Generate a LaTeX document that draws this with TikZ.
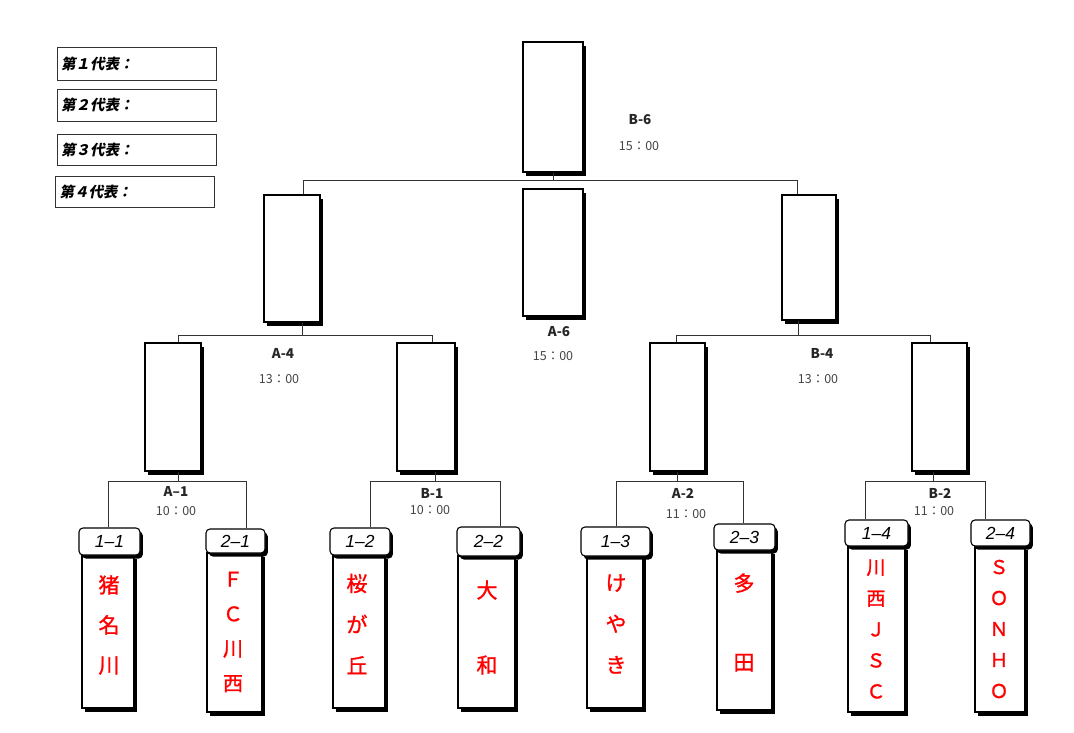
\documentclass[tikz,border=0pt]{standalone}
\usepackage{fontspec}
\setmainfont{Noto Sans CJK JP}
\newfontfamily\legfont[FakeSlant=0.2]{Noto Sans CJK JP}
\newfontfamily\teamfont[FakeBold=1.2]{Noto Sans CJK JP}
\newfontfamily\hdrfont{Liberation Sans}
\usetikzlibrary{shadows}
\definecolor{linec}{HTML}{333333}
\definecolor{timec}{HTML}{444444}
\tikzset{
  mbox/.style={draw=black, line width=1.1pt, fill=white, inner sep=0pt,
    drop shadow={shadow xshift=2.8pt, shadow yshift=-3.5pt, fill=black, opacity=1}},
  hdr/.style={mbox, rounded corners=4pt, font=\hdrfont\itshape\fontsize{17.5}{18}\selectfont, text=black},
  conn/.style={draw=linec, line width=0.9pt},
  lbl/.style={font=\bfseries\fontsize{13.5}{15}\selectfont, text=black!85},
  tim/.style={font=\fontsize{12.5}{14}\selectfont, text=timec},
  legbox/.style={draw=black!80, line width=0.9pt, minimum width=159pt, minimum height=33pt,
    text width=151pt, align=left, inner xsep=4pt, inner ysep=0pt,
    font=\legfont\bfseries\fontsize{14.5}{16}\selectfont},
  team/.style={text=red, align=center, inner sep=0pt}
}
\newcommand\boxat[6][mbox]{\node[#1, minimum width={(#4-#3)*1pt}, minimum height={(#6-#5)*1pt}] (#2) at ({(#3+#4)/2},{(#5+#6)/2}) {};}
\newcommand\hdrat[6]{\node[hdr, minimum width={(#3-#2)*1pt}, minimum height={(#5-#4)*1pt}] (#1) at ({(#2+#3)/2},{(#4+#5)/2}) {#6};}
\begin{document}
\begin{tikzpicture}[x=1pt,y=-1pt]
\useasboundingbox (0,0) rectangle (1074,732);

% legend
\node[legbox] (L1) at (136.5,63.5) {第１代表：};
\node[legbox, minimum height=32pt] (L2) at (136.5,105) {第２代表：};
\node[legbox, minimum height=31pt] (L3) at (136.5,149.5) {第３代表：};
\node[legbox, minimum height=31pt] (L4) at (135,191.5) {第４代表：};

% match boxes
\boxat{B6}{523}{583}{42}{172}
\boxat{A6}{523}{583}{189}{316}
\boxat{W4L}{264}{320}{195}{322}
\boxat{W4R}{782}{836}{195}{320}
\boxat{A1w}{145}{201}{343}{471}
\boxat{B1w}{397}{455}{343}{471}
\boxat{A2w}{650}{705}{343}{471}
\boxat{B2w}{912}{967}{343}{471}

% team bodies
\boxat{T11}{82}{134}{555}{708}
\boxat{T21}{207}{262}{553}{712}
\boxat{T12}{333}{385}{555}{708}
\boxat{T22}{458}{515}{556}{708}
\boxat{T13}{587}{643}{555}{708}
\boxat{T23}{717}{772}{550}{710}
\boxat{T14}{848}{905}{546}{712}
\boxat{T24}{975}{1025}{546}{712}

% team headers
\hdrat{H11}{79}{140}{528}{555}{1–1}
\hdrat{H21}{206}{265}{529}{553}{2–1}
\hdrat{H12}{330}{390}{528}{555}{1–2}
\hdrat{H22}{457}{520}{527}{556}{2–2}
\hdrat{H13}{581}{650}{527}{556}{1–3}
\hdrat{H23}{714}{775}{524}{550}{2–3}
\hdrat{H14}{845}{908}{520}{546}{1–4}
\hdrat{H24}{971}{1030}{520}{546}{2–4}

% connectors level 1
\coordinate (j1a) at (303,180);
\coordinate (j1b) at (797,180);
\draw[conn] (W4L.north -| j1a) -- (j1a) -- (j1b) -- (W4R.north -| j1b);
\draw[conn] (B6.south) -- (B6.south |- j1a);

% level 2
\coordinate (j2a) at (178,335);
\coordinate (j2b) at (432,335);
\coordinate (d2a) at (302,335);
\draw[conn] (A1w.north -| j2a) -- (j2a) -- (j2b) -- (B1w.north -| j2b);
\draw[conn] (W4L.south -| d2a) -- (d2a);
\coordinate (j2c) at (676,335);
\coordinate (j2d) at (930,335);
\coordinate (d2b) at (798,335);
\draw[conn] (A2w.north -| j2c) -- (j2c) -- (j2d) -- (B2w.north -| j2d);
\draw[conn] (W4R.south -| d2b) -- (d2b);

% level 3
\coordinate (k1) at (108,481); \coordinate (k2) at (246,481); \coordinate (e1) at (178,481);
\draw[conn] (H11.north -| k1) -- (k1) -- (k2) -- (H21.north -| k2);
\draw[conn] (A1w.south -| e1) -- (e1);
\coordinate (k3) at (370,481); \coordinate (k4) at (500,481); \coordinate (e2) at (435,481);
\draw[conn] (H12.north -| k3) -- (k3) -- (k4) -- (H22.north -| k4);
\draw[conn] (B1w.south -| e2) -- (e2);
\coordinate (k5) at (616,481); \coordinate (k6) at (743,481); \coordinate (e3) at (677,481);
\draw[conn] (H13.north -| k5) -- (k5) -- (k6) -- (H23.north -| k6);
\draw[conn] (A2w.south -| e3) -- (e3);
\coordinate (k7) at (865,481); \coordinate (k8) at (985,481); \coordinate (e4) at (933,481);
\draw[conn] (H14.north -| k7) -- (k7) -- (k8) -- (H24.north -| k8);
\draw[conn] (B2w.south -| e4) -- (e4);

% match labels
\node[lbl] (lB6) at (640,120) {B-6};
\node[tim] (tB6) at (639,146) {15：00};
\node[lbl] (lA6) at (559,332) {A-6};
\node[tim] (tA6) at (553,356) {15：00};
\node[lbl] (lA4) at (283,353) {A-4};
\node[tim] (tA4) at (279,379) {13：00};
\node[lbl] (lB4) at (822,353) {B-4};
\node[tim] (tB4) at (818,379) {13：00};
\node[lbl] (lA1) at (176,491) {A–1};
\node[tim] (tA1) at (176,511) {10：00};
\node[lbl] (lB1) at (432,493) {B-1};
\node[tim] (tB1) at (430,510) {10：00};
\node[lbl] (lA2) at (683,493) {A-2};
\node[tim] (tA2) at (686,514) {11：00};
\node[lbl] (lB2) at (940,493) {B-2};
\node[tim] (tB2) at (934,511) {11：00};

% team names
\node[team, font=\teamfont\fontsize{21}{40}\selectfont] (N11) at (109,625) {猪\\名\\川};
\node[team, font=\teamfont\fontsize{20}{34.7}\selectfont] (N21) at (233,632) {Ｆ\\Ｃ\\川\\西};
\node[team, font=\teamfont\fontsize{21}{41}\selectfont] (N12) at (357,624) {桜\\が\\丘};
\node[team, font=\teamfont\fontsize{21}{75}\selectfont] (N22) at (487,627.5) {大\\和};
\node[team, font=\teamfont\fontsize{21}{41}\selectfont] (N13) at (616,624) {け\\や\\き};
\node[team, font=\teamfont\fontsize{21}{79}\selectfont] (N23) at (744,622.5) {多\\田};
\node[team, font=\teamfont\fontsize{19}{31}\selectfont] (N14) at (876,629) {川\\西\\Ｊ\\Ｓ\\Ｃ};
\node[team, font=\teamfont\fontsize{19}{31}\selectfont] (N24) at (999,629) {Ｓ\\Ｏ\\Ｎ\\Ｈ\\Ｏ};
\end{tikzpicture}
\end{document}
